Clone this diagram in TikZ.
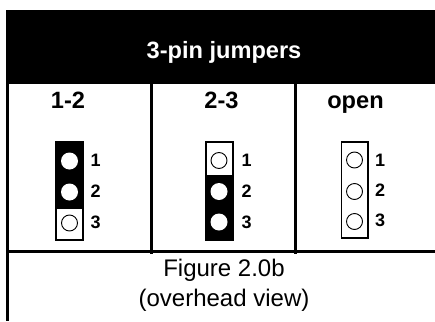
\documentclass[tikz,border=0pt]{standalone}
\usepackage{fontspec}
\setmainfont{Liberation Sans}
\usepackage{tikz}

\tikzset{
    rule/.style={line width=3pt},
    pinon/.style={circle, fill=white, draw=none, minimum size=17pt, inner sep=0pt},
    pinoff/.style={circle, fill=white, draw=black, line width=0.9pt, minimum size=16pt, inner sep=0pt},
    headtext/.style={font=\bfseries\fontsize{23.6}{26}\selectfont, anchor=base, inner sep=0pt},
    pintext/.style={font=\bfseries\fontsize{18}{20}\selectfont, anchor=base west, inner sep=0pt},
    captext/.style={font=\fontsize{24}{29.5}\selectfont, anchor=base, inner sep=0pt},
    legbox/.style={draw=black, line width=1.8pt, fill=white}
}

\begin{document}
\begin{tikzpicture}[x=1pt,y=-1pt]
    \useasboundingbox (0,0) rectangle (435,321);

    % title bar
    \fill[black] (6,10) rectangle (435,84);
    \node[headtext, text=white] (title) at (224,58) {3-pin jumpers};

    % table rules
    \draw[rule] (7.5,84) -- (7.5,321);
    \draw[rule] (151.5,84) -- (151.5,254);
    \draw[rule] (295.5,84) -- (295.5,254);
    \draw[rule] (6,251) -- (435,251);

    % column heads
    \node[headtext] (headA) at (68,108) {1-2};
    \node[headtext] (headB) at (221.5,108) {2-3};
    \node[headtext] (headC) at (355.5,108) {open};

    % 1-2
    \fill[black] (55,141) rectangle (84,241);
    \draw[legbox] (56,208) rectangle (83,240);
    \node[pinon] (a1) at (69.5,161) {};
    \node[pinon] (a2) at (69.5,192) {};
    \node[pinoff] (a3) at (69.5,223) {};
    \node[pintext] (la1) at (90.5,166) {1};
    \node[pintext] (la2) at (90.5,197) {2};
    \node[pintext] (la3) at (90.5,228) {3};

    % 2-3
    \fill[black] (205,175) rectangle (234,241);
    \draw[legbox] (206,142) rectangle (233,176);
    \node[pinoff] (b1) at (219,160.5) {};
    \node[pinon] (b2) at (219,191.5) {};
    \node[pinon] (b3) at (219,222) {};
    \node[pintext] (lb1) at (241.5,166) {1};
    \node[pintext] (lb2) at (241.5,197) {2};
    \node[pintext] (lb3) at (241.5,228) {3};

    % open
    \draw[legbox] (341.5,142) rectangle (368,238);
    \node[pinoff] (c1) at (354.5,160) {};
    \node[pinoff] (c2) at (354.5,191.5) {};
    \node[pinoff] (c3) at (354.5,221.5) {};
    \node[pintext] (lc1) at (375,166) {1};
    \node[pintext] (lc2) at (375,196.5) {2};
    \node[pintext] (lc3) at (375,226.5) {3};

    % caption
    \node[captext] (figcapA) at (224,276.5) {Figure 2.0b};
    \node[captext] (figcapB) at (224,306) {(overhead view)};
\end{tikzpicture}
\end{document}
